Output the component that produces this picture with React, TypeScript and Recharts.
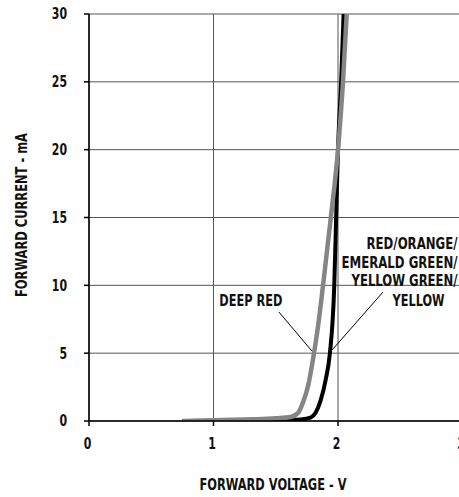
import { LineChart, Line, XAxis, YAxis, CartesianGrid, ReferenceLine, ReferenceDot } from "recharts";

// forward voltage (V) / forward current (mA)
const deepRedV = [0.75, 1.0, 1.3, 1.5, 1.62, 1.68, 1.72, 1.76, 1.8, 1.84, 1.88, 1.94, 2.0, 2.04, 2.07];
const deepRedI = [0, 0.05, 0.12, 0.2, 0.3, 0.6, 1.4, 2.6, 4.6, 7, 10, 14.8, 20, 25, 30];
const redV = [0.75, 1.2, 1.5, 1.7, 1.78, 1.82, 1.86, 1.9, 1.935, 1.97, 1.985, 2.0, 2.025, 2.045];
const redI = [0, 0.02, 0.05, 0.12, 0.25, 0.6, 1.5, 3, 5, 10, 15, 20, 25, 30];

const xTicks = [0, 1, 2, 3];
const yTicks = [0, 5, 10, 15, 20, 25, 30];

const redLabel = ["RED/ORANGE/", "EMERALD GREEN/", "YELLOW GREEN/"];
const redLabelWidths = [91, 116, 106];

const FONT = "'DejaVu Sans Condensed', 'DejaVu Sans', sans-serif";
const INK = "#111";

const deepRed = deepRedV.map((v, i) => ({ v, i: deepRedI[i] }));
const red = redV.map((v, i) => ({ v, i: redI[i] }));

// squeezed bold text, to get the narrow look of the original lettering
function Cond({ x, y, w, size = 16, anchor = "middle", dy = "0.36em", rotate = 0, children }: any) {
  return (
    <text
      x={x}
      y={y}
      dy={dy}
      textAnchor={anchor}
      textLength={w}
      lengthAdjust="spacingAndGlyphs"
      fill={INK}
      fontSize={size}
      fontWeight={700}
      fontFamily={FONT}
      transform={rotate ? `rotate(${rotate} ${x} ${y})` : undefined}
    >
      {children}
    </text>
  );
}

const XTick = (p: any) => {
  const s = String(p.payload.value);
  return (
    <Cond x={p.x - 1.5} y={p.y} w={s.length * 7.6} size={15} dy="0.71em">
      {s}
    </Cond>
  );
};

const YTick = (p: any) => {
  const s = String(p.payload.value);
  return (
    <Cond x={p.x} y={p.y} w={s.length * 7.6} size={15} anchor="end">
      {s}
    </Cond>
  );
};

export default function App() {
  return (
    <div
      style={{
        position: "absolute",
        left: 0,
        top: 0,
        width: 459,
        height: 497,
        overflow: "hidden",
        background: "#fff",
      }}
    >
      <LineChart width={470} height={497} margin={{ top: 14, right: 7.5, bottom: 0, left: 0 }}>
        <CartesianGrid stroke="#555" strokeWidth={1} />
        <XAxis
          type="number"
          dataKey="v"
          domain={[0, 3]}
          ticks={xTicks}
          height={76}
          tickSize={5}
          tickMargin={12}
          stroke="#000"
          strokeWidth={1.5}
          tick={XTick}
          label={{
            content: (p: any) => (
              <Cond x={273} y={p.viewBox.y + 63} w={147} size={16}>
                FORWARD VOLTAGE - V
              </Cond>
            ),
          }}
        />
        <YAxis
          type="number"
          domain={[0, 30]}
          ticks={yTicks}
          width={89}
          tickSize={5}
          tickMargin={17}
          stroke="#000"
          strokeWidth={1.5}
          allowDataOverflow
          tick={YTick}
          label={{
            content: () => (
              <Cond x={21.5} y={215} w={164} size={16} rotate={-90}>
                FORWARD CURRENT - mA
              </Cond>
            ),
          }}
        />
        <Line
          data={red}
          dataKey="i"
          type="monotone"
          stroke="#000"
          strokeWidth={4}
          dot={false}
          isAnimationActive={false}
        />
        <Line
          data={deepRed}
          dataKey="i"
          type="monotone"
          stroke="#858585"
          strokeWidth={4.5}
          dot={false}
          isAnimationActive={false}
        />
        <ReferenceLine
          segment={[
            { x: 1.526, y: 8.03 },
            { x: 1.79, y: 5.16 },
          ]}
          stroke="#000"
          strokeWidth={1}
        />
        <ReferenceLine
          segment={[
            { x: 2.361, y: 9.5 },
            { x: 1.952, y: 5.23 },
          ]}
          stroke="#000"
          strokeWidth={1}
        />
        <ReferenceDot
          x={1.3}
          y={8.9}
          r={0}
          shape={(p: any) => (
            <Cond x={p.cx} y={p.cy} w={63} size={16}>
              DEEP RED
            </Cond>
          )}
        />
        <ReferenceDot
          x={2.96}
          y={13}
          r={0}
          shape={(p: any) => (
            <g>
              {redLabel.map((t, k) => (
                <Cond key={t} x={p.cx} y={p.cy + k * 18.3 - 1} w={redLabelWidths[k]} size={16} anchor="end">
                  {t}
                </Cond>
              ))}
              <Cond x={p.cx - 39} y={p.cy + 3 * 18.3 + 1} w={52} size={16}>
                YELLOW
              </Cond>
            </g>
          )}
        />
      </LineChart>
    </div>
  );
}
